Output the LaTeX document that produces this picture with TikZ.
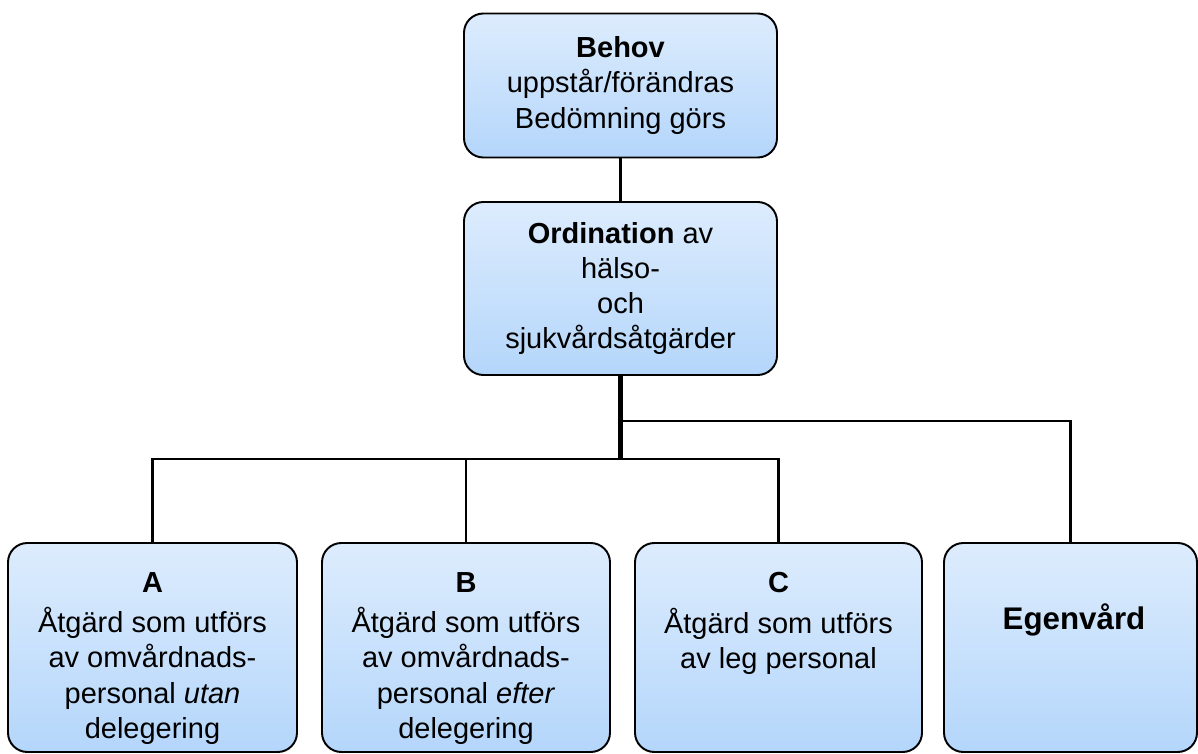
\documentclass[tikz,border=0pt]{standalone}
\usepackage{fontspec}
\setmainfont{Liberation Sans}
\definecolor{boxtop}{RGB}{221, 236, 253}
\definecolor{boxbot}{RGB}{180, 214, 251}
\usetikzlibrary{positioning}
\newcommand{\boxfont}{\fontsize{16.5}{20}\selectfont}

\begin{document}
\begin{tikzpicture}[
  box/.style={draw=black, line width=1.1pt, rounded corners=11pt, top color=boxtop, bottom color=boxbot, align=center, font=\boxfont, inner sep=0pt},
  txt/.style={align=center, font=\boxfont, inner sep=0pt, anchor=north},
  conn/.style={line width=1.6pt},
  trunk/.style={line width=2.3pt},
]
  \useasboundingbox (0, 0) rectangle (23.96, -15.08);

  \node[box, minimum width=6.26cm, minimum height=2.88cm] (behov) at (12.41, -1.71) {\textbf{Behov}\\uppstår/förändras\\Bedömning görs};
  \node[box, minimum width=6.26cm, minimum height=3.46cm] (ord) at (12.41, -5.77) {\textbf{Ordination} av\\hälso-\\och\\sjukvårdsåtgärder};

  \node[box, minimum width=5.78cm, minimum height=4.18cm] (a) at (3.05, -12.95) {};
  \node[box, minimum width=5.76cm, minimum height=4.18cm] (b) at (9.32, -12.95) {};
  \node[box, minimum width=5.74cm, minimum height=4.18cm] (c) at (15.57, -12.95) {};
  \node[box, minimum width=5.06cm, minimum height=4.18cm] (egen) at (21.41, -12.95) {};

  \node[txt] (atxt) at (3.05, -11.44) {\textbf{A}\\[3pt]Åtgärd som utförs\\av omvårdnads-\\personal \textit{utan}\\delegering};
  \node[txt] (btxt) at (9.32, -11.44) {\textbf{B}\\[3pt]Åtgärd som utförs\\av omvårdnads-\\personal \textit{efter}\\delegering};
  \node[txt] (ctxt) at (15.57, -11.44) {\textbf{C}\\[3pt]Åtgärd som utförs\\av leg personal};
  \node[font=\fontsize{17.8}{21}\selectfont\bfseries, inner sep=0pt, anchor=base] (egentxt) at (21.48, -12.58) {Egenvård};

  \coordinate (split) at (12.41, -9.18);
  \coordinate (tap) at (12.41, -8.42);

  \draw[conn] (behov) -- (ord);
  \draw[trunk] (ord) -- (split);
  \draw[conn] (tap) -| (egen.north);
  \draw[conn] (a.north) |- (split) -| (c.north);
  \draw[conn] (b.north) -- (b.north |- split);
\end{tikzpicture}
\end{document}
